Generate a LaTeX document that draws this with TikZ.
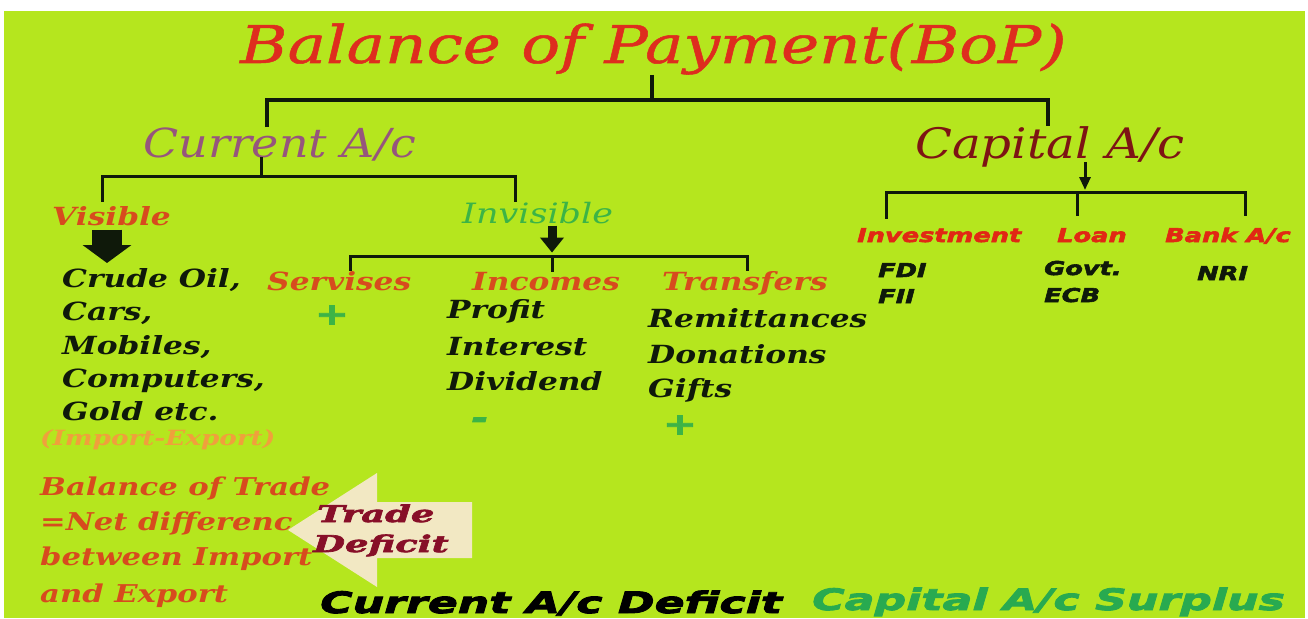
\documentclass[tikz,border=0pt]{standalone}
\usepackage{fontspec}
\usetikzlibrary{arrows.meta,positioning}
\newfontfamily\titlefont[FakeStretch=1.24,FakeBold=1]{DejaVu Serif}
\newfontfamily\headfont[FakeStretch=1.15]{DejaVu Serif}
\newfontfamily\bookfont[FakeStretch=1.25]{DejaVu Serif}
\newfontfamily\blackfont[FakeStretch=1.35,FakeBold=3]{DejaVu Sans}
\newfontfamily\widefont[FakeStretch=1.5,FakeBold=3]{DejaVu Sans}
\newfontfamily\cooperfont[FakeStretch=1.6,FakeBold=3]{DejaVu Serif}
\definecolor{bgreen}{RGB}{181,230,30}
\definecolor{titlered}{RGB}{222,45,30}
\definecolor{mauve}{RGB}{150,85,125}
\definecolor{maroon}{RGB}{125,20,20}
\definecolor{orred}{RGB}{215,75,30}
\definecolor{leafgreen}{RGB}{60,180,70}
\definecolor{amber}{RGB}{240,160,60}
\definecolor{inkblack}{RGB}{15,25,10}
\definecolor{wine}{RGB}{135,15,40}
\definecolor{beige}{RGB}{242,232,195}
\definecolor{surplus}{RGB}{40,170,80}
\definecolor{capred}{RGB}{225,40,20}
\tikzset{
  every node/.style={inner sep=0pt, anchor=base west},
  bar/.style={line width=4pt, draw=inkblack},
  treeline/.style={line width=3pt, draw=inkblack},
  headtxt/.style={font=\headfont\itshape\fontsize{40}{48}\selectfont},
  subtxt/.style={font=\bookfont\bfseries\itshape\fontsize{25}{30}\selectfont, text=orred},
  itemtxt/.style={font=\bookfont\bfseries\itshape\fontsize{25}{30}\selectfont, text=inkblack},
  tradetxt/.style={font=\bookfont\bfseries\itshape\fontsize{24.5}{28}\selectfont, text=orred},
  captxt/.style={font=\blackfont\bfseries\itshape\fontsize{19}{23}\selectfont, text=capred},
  capitem/.style={font=\blackfont\bfseries\itshape\fontsize{19}{23}\selectfont, text=inkblack},
  signtxt/.style={anchor=center, font=\blackfont\bfseries\itshape\fontsize{30}{30}\selectfont, text=leafgreen},
  deficittxt/.style={font=\cooperfont\bfseries\itshape\fontsize{23}{27}\selectfont, text=wine},
  bottomtxt/.style={font=\widefont\bfseries\itshape\fontsize{29.5}{34}\selectfont},
  bigarrow/.style={line width=30pt, draw=inkblack, -{Triangle[length=18pt,width=48pt]}},
  midarrow/.style={line width=9pt, draw=inkblack, -{Triangle[length=15pt,width=23pt]}},
  smallarrow/.style={line width=3pt, draw=inkblack, -{Triangle[length=13pt,width=11pt]}}
}
\begin{document}
\begin{tikzpicture}[x=1pt, y=-1pt]
    \useasboundingbox (0,0) rectangle (1308,618);
    % Latar
    \fill[white] (0,0) rectangle (1308,618);
    \fill[bgreen] (4,11) rectangle (1305,618);
    % Judul
    \node[font=\titlefont\itshape\fontsize{52}{60}\selectfont, text=titlered] (bop) at (240,63) {Balance of Payment(BoP)};
    \node[headtxt, text=mauve] (curr) at (143,157) {Current A/c};
    \node[headtxt, text=maroon, font=\headfont\itshape\fontsize{42}{48}\selectfont] (cap) at (915,158) {Capital A/c};
    \coordinate (bopj) at (652,100);
    \coordinate (currbar) at (267,100);
    \coordinate (capbar) at (1048,100);
    \draw[bar] (bop.south -| bopj) -- (bopj);
    \draw[bar] (curr.north -| currbar) -- (currbar) -- (capbar) -- (cap.north -| capbar);
    % Current A/c
    \node[subtxt] (vis) at (52,225) {Visible};
    \node[font=\bookfont\itshape\fontsize{28}{30}\selectfont, text=leafgreen] (invis) at (462,223) {Invisible};
    \coordinate (currj) at (261,176);
    \coordinate (visj) at (102,176);
    \coordinate (invj) at (515,176);
    \draw[treeline] (curr.base -| currj) -- (currj);
    \draw[treeline, shorten <=4pt] (vis.north -| visj) -- (visj) -- (invj) -- (invis.north -| invj);
    % Visible
    \coordinate (visarr) at (107,263);
    \draw[bigarrow] (vis.south -| visarr) ++(0,4) -- (visarr);
    \node[itemtxt] (oil) at (62,287) {Crude Oil,};
    \node[itemtxt] (cars) at (62,320) {Cars,};
    \node[itemtxt] (mob) at (62,354) {Mobiles,};
    \node[itemtxt] (comp) at (62,387) {Computers,};
    \node[itemtxt] (gold) at (62,420) {Gold etc.};
    \node[font=\bookfont\bfseries\itshape\fontsize{21}{23}\selectfont, text=amber] (impexp) at (40,445) {(Import-Export)};
    % Invisible
    \node[subtxt] (serv) at (267,290) {Servises};
    \node[subtxt] (inc) at (472,290) {Incomes};
    \node[subtxt] (trans) at (662,290) {Transfers};
    \coordinate (servj) at (350,256);
    \coordinate (incj) at (552,256);
    \coordinate (transj) at (747,256);
    \draw[midarrow] (invis.south -| incj) ++(0,2) -- ++(0,27);
    \draw[treeline] (serv.north -| servj) -- (servj) -- (transj) -- (trans.north -| transj);
    \draw[treeline] (incj) -- (inc.north -| incj);
    \node[signtxt] (servsign) at (332,315) {+};
    \node[itemtxt] (profit) at (447,318) {Profit};
    \node[itemtxt] (interest) at (447,355) {Interest};
    \node[itemtxt] (divid) at (447,390) {Dividend};
    \node[signtxt] (incsign) at (480,423) {-};
    \node[itemtxt] (remit) at (648,327) {Remittances};
    \node[itemtxt] (donat) at (648,363) {Donations};
    \node[itemtxt] (gifts) at (648,397) {Gifts};
    \node[signtxt] (transsign) at (680,425) {+};
    % Capital A/c
    \coordinate (capj) at (1085,192);
    \coordinate (investj) at (886,192);
    \coordinate (loanj) at (1077,192);
    \coordinate (bankj) at (1245,192);
    \node[captxt] (invest) at (857,242) {Investment};
    \node[captxt] (loan) at (1057,242) {Loan};
    \node[captxt] (bank) at (1165,242) {Bank A/c};
    \draw[smallarrow] (cap.base -| capj) ++(0,4) -- ++(0,28);
    \draw[treeline, shorten <=9pt] (invest.north -| investj) -- (investj) -- (bankj) -- ++(0,24);
    \draw[treeline] (loanj) -- ++(0,24);
    \node[capitem] (fdi) at (878,277) {FDI};
    \node[capitem] (fii) at (878,303) {FII};
    \node[capitem] (govt) at (1044,275) {Govt.};
    \node[capitem] (ecb) at (1044,302) {ECB};
    \node[capitem] (nri) at (1197,280) {NRI};
    % Balance of Trade
    \node[tradetxt] (bot1) at (40,495) {Balance of Trade};
    \node[tradetxt] (bot2) at (40,530) {=Net differenc};
    \node[tradetxt] (bot3) at (40,565) {between Import};
    \node[tradetxt] (bot4) at (40,602) {and Export};
    \fill[beige] (288,530) -- (377,473) -- (377,502) -- (472,502) -- (472,558) -- (377,558) -- (377,587) -- cycle;
    \node[deficittxt] (trade) at (317,522) {Trade};
    \node[deficittxt] (deficit) at (313,552) {Deficit};
    % Bawah
    \node[bottomtxt, text=black] (cad) at (320,613) {Current A/c Deficit};
    \node[bottomtxt, text=surplus] (cas) at (812,610) {Capital A/c Surplus};
\end{tikzpicture}
\end{document}
